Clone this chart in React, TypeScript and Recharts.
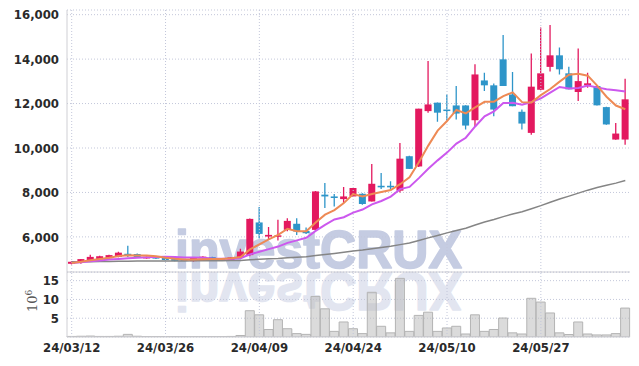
import { ComposedChart, Bar, Line, XAxis, YAxis, CartesianGrid, ReferenceLine } from 'recharts'

const dates = [
  '24/03/12', '24/03/13', '24/03/14', '24/03/15', '24/03/18', '24/03/19', '24/03/20', '24/03/21', '24/03/22', '24/03/25',
  '24/03/26', '24/03/27', '24/03/28', '24/03/29', '24/04/01', '24/04/02', '24/04/03', '24/04/04', '24/04/05', '24/04/08',
  '24/04/09', '24/04/11', '24/04/12', '24/04/15', '24/04/16', '24/04/17', '24/04/18', '24/04/19', '24/04/22', '24/04/23',
  '24/04/24', '24/04/25', '24/04/26', '24/04/29', '24/04/30', '24/05/02', '24/05/03', '24/05/07', '24/05/08', '24/05/09',
  '24/05/10', '24/05/13', '24/05/14', '24/05/16', '24/05/17', '24/05/20', '24/05/21', '24/05/22', '24/05/23', '24/05/24',
  '24/05/27', '24/05/28', '24/05/29', '24/05/30', '24/05/31', '24/06/03', '24/06/04', '24/06/05', '24/06/07', '24/06/10',
]

const opens = [
  4790, 4870, 4960, 4990, 5040, 5100, 5240, 5230, 5030, 5090,
  5050, 5000, 4980, 4910, 5040, 5090, 5020, 4970, 5080, 5180,
  6650, 6015, 6020, 6316, 6590, 6270, 6316, 7900, 7820, 7700,
  7820, 7940, 7594, 8300, 8300, 8080, 9630, 9170, 11660, 12040,
  11730, 11915, 11915, 11250, 13040, 12820, 13990, 12410, 11630, 10680,
  12620, 13650, 14170, 13360, 12520, 12820, 12790, 11840, 10380, 10380,
]
const highs = [
  4900, 5010, 5200, 5150, 5200, 5330, 5600, 5250, 5120, 5110,
  5080, 5030, 5000, 5070, 5130, 5110, 5040, 5100, 5470, 6830,
  7340, 6440, 6770, 6840, 6840, 6420, 8060, 8420, 7930, 8240,
  8200, 7960, 9280, 8880, 8500, 10230, 9650, 11770, 13910, 12050,
  12410, 12790, 11920, 13770, 13390, 12900, 15080, 13420, 11730, 14250,
  15420, 15530, 14520, 13660, 14480, 13390, 12800, 11860, 11130, 13120,
]
const lows = [
  4760, 4790, 4950, 4980, 5030, 5080, 5100, 5070, 5020, 5000,
  4940, 4900, 4910, 4890, 5020, 4970, 4940, 4950, 5060, 5130,
  5940, 5865, 5835, 6250, 6090, 6130, 6290, 7300, 7370, 7520,
  7800, 7450, 7590, 8150, 8150, 8000, 9050, 9150, 11590, 11180,
  11240, 11280, 10830, 10980, 12560, 11430, 12790, 11880, 10830, 10600,
  12600, 13440, 13310, 12640, 12110, 12710, 11910, 11050, 10370, 10150,
]
const closes = [
  4880, 5000, 5100, 5130, 5180, 5290, 5150, 5090, 5100, 5030,
  4960, 4920, 4930, 5050, 5110, 4990, 4960, 5080, 5340, 6810,
  6135, 6090, 6070, 6720, 6240, 6165, 8046, 7820, 7750, 7820,
  8200, 7480, 8390, 8230, 8230, 9520, 9060, 11770, 11960, 11590,
  11690, 11550, 11010, 13310, 12820, 11730, 12790, 11880, 11100, 12760,
  13360, 14170, 13540, 12640, 13010, 12910, 11920, 11060, 10650, 12190,
]

// volume, millions of shares
const volumes = [
  0.15, 0.2, 0.25, 0.15, 0.15, 0.2, 0.7, 0.2, 0.1, 0.1,
  0.1, 0.1, 0.1, 0.1, 0.1, 0.1, 0.1, 0.15, 0.4, 7.0,
  5.9, 2.0, 4.6, 2.2, 0.9, 0.7, 10.8, 7.5, 1.5, 4.0,
  2.2, 0.9, 11.9, 2.85, 1.1, 15.6, 1.5, 5.75, 6.6, 1.5,
  2.4, 2.85, 0.8, 5.9, 1.5, 2.0, 5.05, 1.1, 0.8, 10.3,
  9.3, 6.4, 1.1, 0.66, 4.0, 0.8, 0.55, 0.55, 0.9, 7.7,
]

const ma5 = [
  4830, 4880, 4950, 5010, 5058, 5140, 5170, 5168, 5162, 5132,
  5066, 5020, 4988, 4978, 4994, 5000, 5008, 5038, 5096, 5436,
  5665, 5891, 6089, 6365, 6251, 6257, 6648, 6998, 7204, 7520,
  7927, 7814, 7928, 8024, 8106, 8370, 8686, 9362, 10108, 10780,
  11214, 11712, 11560, 11830, 12076, 12084, 12332, 12506, 12064, 12052,
  12378, 12654, 12986, 13294, 13344, 13254, 12804, 12308, 11910, 11746,
]
const ma10 = [
  4830, 4860, 4900, 4940, 4980, 5010, 5040, 5060, 5080, 5095,
  5103, 5095, 5078, 5070, 5063, 5033, 5014, 5013, 5037, 5215,
  5333, 5450, 5564, 5731, 5844, 5961, 6270, 6544, 6785, 6886,
  7092, 7231, 7463, 7614, 7813, 8149, 8250, 8645, 9066, 9443,
  9792, 10199, 10461, 10969, 11428, 11649, 12022, 12033, 11947, 12064,
  12231, 12493, 12746, 12679, 12698, 12816, 12729, 12647, 12602, 12545,
]
const ma60 = [
  4880, 4882, 4886, 4890, 4895, 4902, 4906, 4910, 4913, 4916,
  4917, 4918, 4919, 4922, 4925, 4927, 4928, 4932, 4940, 4972,
  4993, 5013, 5033, 5063, 5086, 5107, 5160, 5209, 5257, 5306,
  5361, 5405, 5463, 5519, 5575, 5652, 5722, 5837, 5955, 6066,
  6180, 6291, 6393, 6534, 6666, 6780, 6912, 7029, 7132, 7264,
  7405, 7560, 7704, 7834, 7969, 8103, 8220, 8323, 8419, 8541,
]

const priceTicks = [6000, 8000, 10000, 12000, 14000, 16000]
const volumeTicks = [5, 10, 15]
const dateTicks = ['24/03/12', '24/03/26', '24/04/09', '24/04/24', '24/05/10', '24/05/27']

const rows = dates.map((date, i) => ({
  date,
  open: opens[i], high: highs[i], low: lows[i], close: closes[i],
  vol: volumes[i], ma5: ma5[i], ma10: ma10[i], ma60: ma60[i],
}))

const RED = '#e3195f'
const BLUE = '#2e95c9'
const FRAME = '#cfcfd4'
const GRID = '#c3c7da'
const TICK = {
  fontSize: 13, fill: '#2a2a2a', fontWeight: 600,
  fontFamily: "'DejaVu Sans Condensed', 'DejaVu Sans', sans-serif",
}

function Candle(props: any) {
  const { x, y, width, height, payload } = props
  const { open, close, high, low } = payload
  const top = Math.min(y, y + height)
  const h = Math.abs(height)
  const color = close >= open ? RED : BLUE
  const ppu = h / Math.max(1, high - low)
  const yOf = (v: number) => top + (high - v) * ppu
  const bTop = yOf(Math.max(open, close))
  const bBot = yOf(Math.min(open, close))
  const cx = x + width / 2
  return (
    <g>
      <line x1={cx} x2={cx} y1={top} y2={top + h} stroke={color} strokeWidth={1.3} />
      <rect x={x} y={bTop} width={width} height={Math.max(1.5, bBot - bTop)} fill={color} />
    </g>
  )
}

function Watermark() {
  const txt = (fill: string) => (
    <text x={175} y={268} fontFamily="'Liberation Sans', Arial, sans-serif" fontWeight="bold"
      fontSize={53} fill={fill} stroke={fill} strokeWidth={1.6} strokeLinejoin="round"
      textLength={287} lengthAdjust="spacingAndGlyphs">investCRUX</text>
  )
  return (
    <svg width={639} height={366} style={{ position: 'absolute', left: 0, top: 0 }}>
      {txt('#c5cce2')}
      <g transform="translate(0,541) scale(1,-1)">{txt('#e2e5f0')}</g>
    </svg>
  )
}

export default function App() {
  return (
    <div style={{ position: 'absolute', left: 0, top: 0, width: 639, height: 366, background: '#fff' }}>
      <Watermark />
      <div style={{ position: 'absolute', left: 0, top: 0 }}>
        <ComposedChart width={639} height={273} data={rows}
          margin={{ top: 10, right: 9, left: 0, bottom: 0 }}>
          <CartesianGrid vertical={false} stroke={GRID} strokeDasharray="1 2" />
          <XAxis dataKey="date" height={1} tick={false} tickLine={false} axisLine={{ stroke: FRAME }} />
          <XAxis xAxisId="top" orientation="top" dataKey="date" height={0} tick={false} tickLine={false} axisLine={{ stroke: FRAME }} />
          <YAxis domain={[4420, 16210]} allowDataOverflow ticks={priceTicks} width={67} interval={0}
            tickFormatter={(v: number) => v.toLocaleString('en-US')}
            tick={TICK} tickLine={false} axisLine={{ stroke: FRAME }} />
          <YAxis yAxisId="r" orientation="right" width={0} tick={false} tickLine={false}
            axisLine={{ stroke: FRAME, strokeWidth: 2 }} />
          {dateTicks.map(d => (
            <ReferenceLine key={d} x={d} stroke={GRID} strokeDasharray="1 2" />
          ))}
          <Bar dataKey={(d: any) => [d.low, d.high]} barSize={7} shape={<Candle />} isAnimationActive={false} />
          <Line dataKey="ma60" stroke="#858585" strokeWidth={1.5} dot={false} isAnimationActive={false} />
          <Line dataKey="ma10" stroke="#cc58ee" strokeWidth={2} dot={false} isAnimationActive={false} />
          <Line dataKey="ma5" stroke="#ee8a55" strokeWidth={2} dot={false} isAnimationActive={false} />
        </ComposedChart>
      </div>
      <div style={{ position: 'absolute', left: 0, top: 272 }}>
        <ComposedChart width={639} height={94} data={rows} barCategoryGap={0}
          margin={{ top: 0, right: 9, left: 0, bottom: 0 }}>
          <CartesianGrid vertical={false} stroke={GRID} strokeDasharray="1 2" />
          <XAxis dataKey="date" height={29} interval={9} tick={TICK} tickLine={false} tickMargin={0}
            axisLine={{ stroke: FRAME }} />
          <YAxis domain={[0, 17.3]} allowDataOverflow ticks={volumeTicks} width={67} interval={0}
            tick={TICK} tickLine={false} axisLine={{ stroke: FRAME }} />
          <YAxis yAxisId="r" orientation="right" width={0} tick={false} tickLine={false}
            axisLine={{ stroke: FRAME, strokeWidth: 2 }} />
          {dateTicks.map(d => (
            <ReferenceLine key={d} x={d} stroke={GRID} strokeDasharray="1 2" />
          ))}
          <Bar dataKey="vol" fill="rgba(190,190,190,0.55)" stroke="#b4b4b4" strokeWidth={1} isAnimationActive={false} />
        </ComposedChart>
      </div>
      <svg width={60} height={366} style={{ position: 'absolute', left: 0, top: 0 }}>
        <text transform="translate(37,312) rotate(-90)" fontFamily="'DejaVu Serif', serif" fontSize={13} fill="#555">
          10<tspan dy={-5} fontSize={9}>6</tspan>
        </text>
      </svg>
    </div>
  )
}
